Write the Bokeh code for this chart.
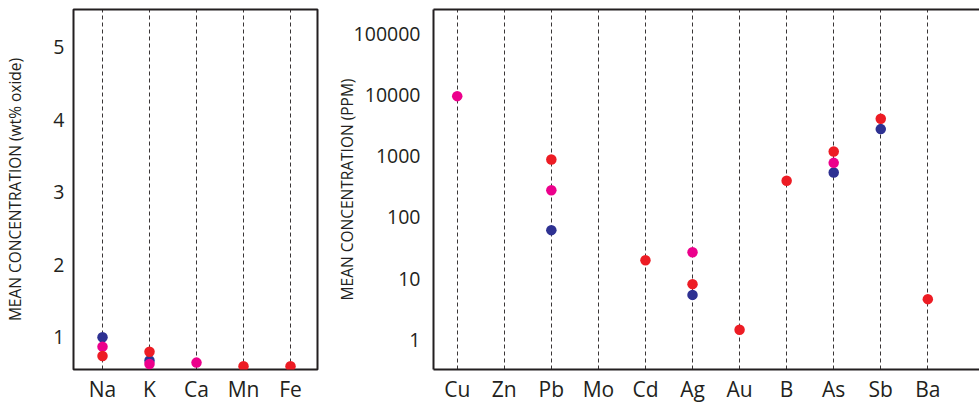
import math
from bokeh.plotting import figure
from bokeh.layouts import row
from bokeh.models import FixedTicker, Range1d, PrintfTickFormatter, LinearAxis, ColumnDataSource
from bokeh.embed import file_html
from bokeh.resources import INLINE

nan = float("nan")

# ---- major elements (wt% oxide) ----
major_elements = ["Na", "K", "Ca", "Mn", "Fe"]
major_blue = [1.0, 0.68, nan, nan, nan]
major_pink = [0.87, 0.63, 0.65, nan, nan]
major_red = [0.74, 0.80, nan, 0.60, 0.60]
major_ticks = [1, 2, 3, 4, 5]

# ---- trace elements (ppm) ----
trace_elements = ["Cu", "Zn", "Pb", "Mo", "Cd", "Ag", "Au", "B", "As", "Sb", "Ba"]
trace_blue = [nan, nan, 62, nan, nan, 5.4, nan, nan, 545, 2800, nan]
trace_pink = [9700, nan, 280, nan, nan, 27, nan, nan, 785, nan, nan]
trace_red = [nan, nan, 890, nan, 20, 8.1, 1.45, 400, 1200, 4150, 4.6]
trace_ticks = [1, 10, 100, 1000, 10000, 100000]

BLUE = "#2e3192"
PINK = "#ec008c"
RED = "#ed1c24"
INK = "#231f20"
FONT = "Open Sans"


def src(values):
    xs, ys = [], []
    for i, v in enumerate(values):
        if not math.isnan(v):
            xs.append(i)
            ys.append(v)
    return ColumnDataSource(dict(x=xs, y=ys))


def style(p, categories, ylabel, ystandoff, tick_standoff):
    p.xaxis.ticker = FixedTicker(ticks=list(range(len(categories))))
    p.xaxis.major_label_overrides = {i: c for i, c in enumerate(categories)}
    for ax in p.axis:
        ax.major_tick_line_color = None
        ax.minor_tick_line_color = None
        ax.major_tick_out = 0
        ax.major_tick_in = 0
        ax.major_label_text_font = FONT
        ax.major_label_text_color = INK
        ax.axis_label_text_font = FONT
        ax.axis_label_text_color = INK
        ax.axis_label_text_font_style = "normal"
    p.xaxis.major_label_text_font_size = "21px"
    p.xaxis.major_label_standoff = 5
    p.yaxis.major_label_text_font_size = "19.5px"
    p.yaxis.major_label_standoff = tick_standoff
    p.yaxis.axis_label = ylabel
    p.yaxis.axis_label_text_font_size = "15.5px"
    p.yaxis.axis_label_standoff = ystandoff
    p.ygrid.grid_line_color = None
    p.xgrid.grid_line_color = INK
    p.xgrid.grid_line_alpha = 0.9
    p.xgrid.grid_line_width = 1
    p.xgrid.grid_line_dash = "4 3"
    p.background_fill_color = "white"
    p.border_fill_color = "white"


def dots(p, blue, pink, red):
    p.scatter("x", "y", source=src(blue), size=10.5, fill_color=BLUE, line_color=None)
    p.scatter("x", "y", source=src(pink), size=10.5, fill_color=PINK, line_color=None)
    p.scatter("x", "y", source=src(red), size=10.5, fill_color=RED, line_color=None)


# left panel
p1 = figure(width=330, height=405, x_range=Range1d(-0.617, 4.574), y_range=Range1d(0.555, 5.52),
            output_backend="svg", toolbar_location=None,
            min_border_left=73, min_border_right=13, min_border_top=9, min_border_bottom=35)
style(p1, major_elements, "MEAN CONCENTRATION (wt% oxide)", 24, 9)
p1.yaxis.ticker = FixedTicker(ticks=major_ticks)
for ax in p1.axis:
    ax.axis_line_color = None
p1.outline_line_color = INK
p1.outline_line_width = 2
p1.outline_line_alpha = 1
dots(p1, major_blue, major_pink, major_red)

# right panel
p2 = figure(width=649, height=405, x_range=Range1d(-0.504, 11.098), y_range=Range1d(0.324, 254700),
            y_axis_type="log", output_backend="svg", toolbar_location=None,
            min_border_left=103, min_border_right=0, min_border_top=9, min_border_bottom=35)
style(p2, trace_elements, "MEAN CONCENTRATION (PPM)", -7, 13)
p2.yaxis.ticker = FixedTicker(ticks=trace_ticks)
p2.yaxis.formatter = PrintfTickFormatter(format="%d")
p2.outline_line_color = None
for ax in p2.axis:
    ax.axis_line_color = INK
    ax.axis_line_width = 2
top = LinearAxis(ticker=FixedTicker(ticks=[]), axis_line_color=INK, axis_line_width=2,
                 major_tick_line_color=None, minor_tick_line_color=None,
                 major_label_text_font_size="0px", major_label_standoff=0,
                 major_tick_out=0, major_tick_in=0)
p2.add_layout(top, "above")
dots(p2, trace_blue, trace_pink, trace_red)

layout = row(p1, p2)
open("out.html", "w").write(file_html(layout, INLINE))
